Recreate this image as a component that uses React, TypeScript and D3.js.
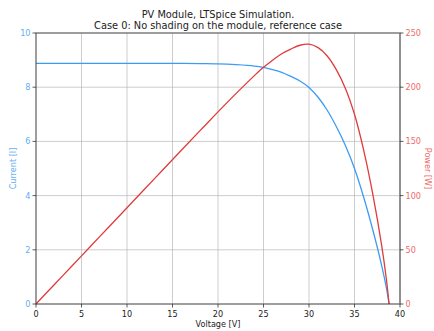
import React from "react";
import * as d3 from "d3";

const voltage = [0, 2, 4, 6, 8, 10, 12, 14, 16, 18, 20, 22, 24, 25, 26, 27, 28, 29, 30, 31, 32, 33, 34, 35, 36, 37, 38, 38.5, 38.8];
const current = [8.88, 8.88, 8.88, 8.88, 8.88, 8.88, 8.88, 8.88, 8.88, 8.87, 8.86, 8.83, 8.78, 8.73, 8.65, 8.55, 8.40, 8.23, 7.99, 7.63, 7.15, 6.55, 5.85, 5.0, 3.95, 2.75, 1.4, 0.6, 0];
const power = [0, 17.8, 35.5, 53.3, 71.0, 88.8, 106.6, 124.3, 142.1, 159.7, 177.2, 194.3, 210.7, 218.3, 224.9, 230.9, 235.2, 238.7, 239.7, 236.5, 228.8, 216.2, 198.9, 175.0, 142.2, 101.8, 53.2, 23.1, 0];
const xTicks = [0, 5, 10, 15, 20, 25, 30, 35, 40];
const leftTicks = [0, 2, 4, 6, 8, 10];
const rightTicks = [0, 50, 100, 150, 200, 250];

const W = 434, H = 331;
const L = 36, R = 400, T = 33, B = 304;
const FONT = "DejaVu Sans, sans-serif";
const BLUE = "#3d9cf2";
const BLUE_T = "#62aef5";
const RED = "#e03b3b";
const RED_T = "#ee6a6a";
const FS = 8.1;

export default function App() {
  const x = d3.scaleLinear().domain([0, 40]).range([L, R]);
  const yI = d3.scaleLinear().domain([0, 10]).range([B, T]);
  const yP = d3.scaleLinear().domain([0, 250]).range([B, T]);
  const idx = voltage.map((_, i) => i);
  const lineI = d3.line<number>().x(i => x(voltage[i])).y(i => yI(current[i])).curve(d3.curveCatmullRom.alpha(0.5));
  const lineP = d3.line<number>().x(i => x(voltage[i])).y(i => yP(power[i])).curve(d3.curveCatmullRom.alpha(0.5));

  return (
    <svg width={W} height={H} style={{ position: "absolute", left: 0, top: 0, background: "#fff" }} fontFamily={FONT}>
      <rect x={0} y={0} width={W} height={H} fill="#fff" />
      {xTicks.map(t => (
        <line key={"gx" + t} x1={x(t)} x2={x(t)} y1={T} y2={B} stroke="#b0b0b0" strokeOpacity={0.8} strokeWidth={0.8} />
      ))}
      {leftTicks.map(t => (
        <line key={"gy" + t} x1={L} x2={R} y1={yI(t)} y2={yI(t)} stroke="#b0b0b0" strokeOpacity={0.8} strokeWidth={0.8} />
      ))}
      <path d={lineI(idx) || ""} fill="none" stroke={BLUE} strokeWidth={1.3} />
      <path d={lineP(idx) || ""} fill="none" stroke={RED} strokeWidth={1.3} />
      <rect x={L} y={T} width={R - L} height={B - T} fill="none" stroke="#333" strokeWidth={0.8} />
      <line x1={R} x2={R} y1={T} y2={B} stroke="#888" strokeWidth={1.2} />
      {xTicks.map(t => (
        <g key={"xt" + t}>
          <line x1={x(t)} x2={x(t)} y1={B} y2={B + 3.5} stroke="#333" strokeWidth={0.8} />
          <text x={x(t)} y={B + 12.5} fontSize={FS} textAnchor="middle" fill="#222">{t}</text>
        </g>
      ))}
      {leftTicks.map(t => (
        <g key={"lt" + t}>
          <line x1={L - 3.5} x2={L} y1={yI(t)} y2={yI(t)} stroke="#333" strokeWidth={0.8} />
          <text x={L - 5.5} y={yI(t) + 3} fontSize={FS} textAnchor="end" fill={BLUE_T}>{t}</text>
        </g>
      ))}
      {rightTicks.map(t => (
        <g key={"rt" + t}>
          <line x1={R} x2={R + 3.5} y1={yP(t)} y2={yP(t)} stroke="#333" strokeWidth={0.8} />
          <text x={R + 5.5} y={yP(t) + 3} fontSize={FS} textAnchor="start" fill={RED_T}>{t}</text>
        </g>
      ))}
      <text x={(L + R) / 2} y={327} fontSize={FS} textAnchor="middle" fill="#222">Voltage [V]</text>
      <text transform={`translate(15.5,${(T + B) / 2}) rotate(-90)`} fontSize={FS} textAnchor="middle" fill={BLUE_T}>Current [I]</text>
      <text transform={`translate(425,${(T + B) / 2}) rotate(90)`} fontSize={FS} textAnchor="middle" fill={RED_T}>Power [W]</text>
      <text x={(L + R) / 2} y={18} fontSize={9.8} textAnchor="middle" fill="#222">PV Module, LTSpice Simulation.</text>
      <text x={(L + R) / 2} y={28.5} fontSize={9.8} textAnchor="middle" fill="#222">Case 0: No shading on the module, reference case</text>
    </svg>
  );
}
